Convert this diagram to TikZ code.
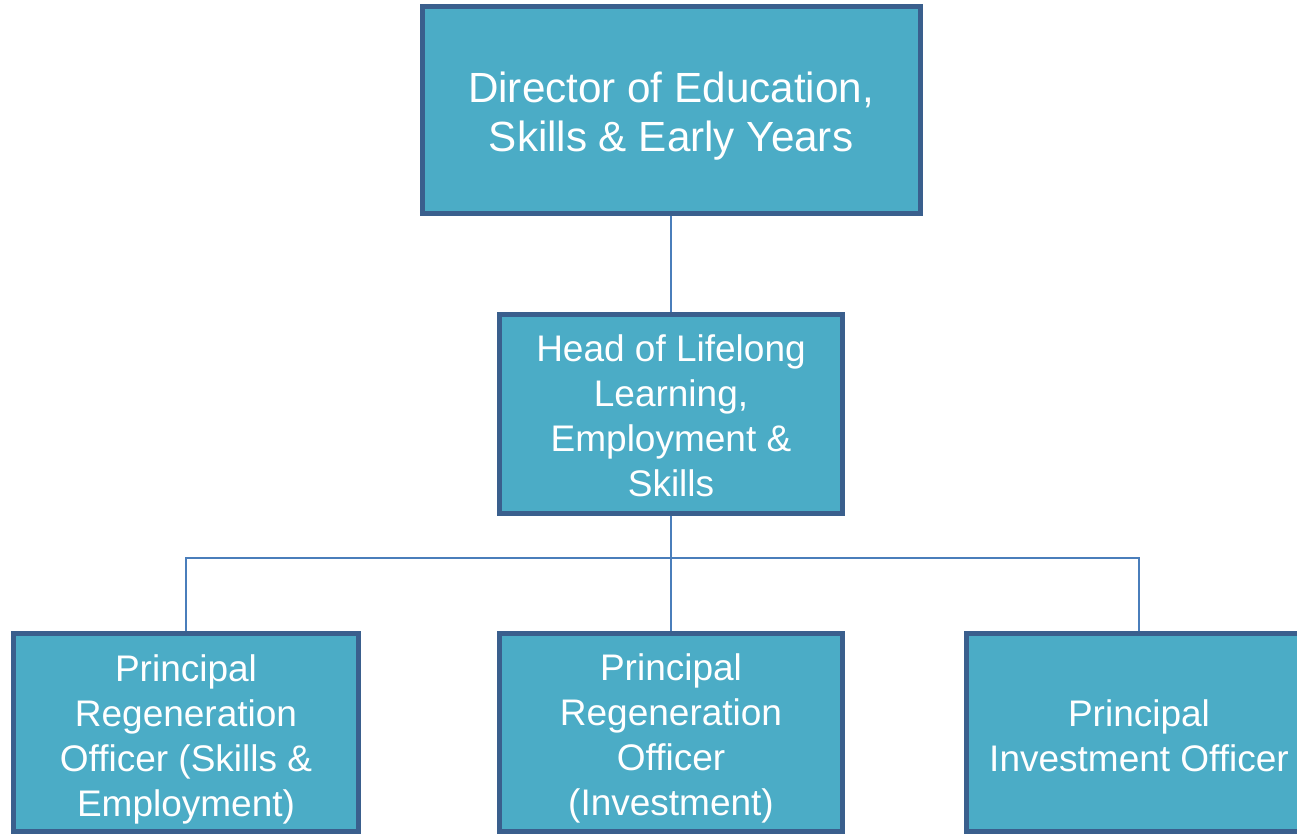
\documentclass[tikz,border=0pt]{standalone}
\usepackage{fontspec}
\setmainfont{Liberation Sans}
\usetikzlibrary{backgrounds}
\definecolor{boxfill}{HTML}{4BACC6}
\definecolor{boxline}{HTML}{3A5F8D}
\definecolor{conn}{HTML}{4A7EBB}
\begin{document}
\begin{tikzpicture}[x=1pt,y=-1pt,
  orgbox/.style={draw=boxline, fill=boxfill, line width=5pt, inner sep=0pt},
  boxtext/.style={text=white, align=center, inner sep=0pt},
  bigtext/.style={font=\fontsize{42.2}{49}\selectfont},
  smalltext/.style={font=\fontsize{37}{45}\selectfont},
  link/.style={draw=conn, line width=2pt}]
\useasboundingbox (0,0) rectangle (1297,833);
\clip (0,0) rectangle (1297,833);
% boxes
\node[orgbox, minimum width=498pt, minimum height=207pt,
  label={[boxtext, bigtext, yshift=-6pt]center:{Director of Education,\\Skills \& Early Years}}] (dir) at (671,110) {};
\node[orgbox, minimum width=343pt, minimum height=199pt,
  label={[boxtext, smalltext, yshift=-2pt]center:{Head of Lifelong\\Learning,\\Employment \&\\Skills}}] (head) at (671,414) {};
\node[orgbox, minimum width=345pt, minimum height=197.5pt,
  label={[boxtext, smalltext, yshift=-7pt]center:{Principal\\Regeneration\\Officer (Skills \&\\Employment)}}] (b1) at (186,732.25) {};
\node[orgbox, minimum width=343pt, minimum height=197.5pt,
  label={[boxtext, smalltext, yshift=-6.5pt]center:{Principal\\Regeneration\\Officer\\(Investment)}}] (b2) at (671,732.25) {};
\node[orgbox, minimum width=345pt, minimum height=197.5pt,
  label={[boxtext, smalltext, yshift=-4pt]center:{Principal\\Investment Officer}}] (b3) at (1139,732.25) {};
\coordinate (bus) at (671,558);
% connectors behind boxes
\begin{scope}[on background layer]
\path[link] (dir.south) -- (head.north);
\path[link] (head.south) -- (bus);
\path[link] (bus) -| (b1.north);
\path[link] (bus) -| (b3.north);
\path[link] (bus) -- (b2.north);
\end{scope}
\end{tikzpicture}
\end{document}
